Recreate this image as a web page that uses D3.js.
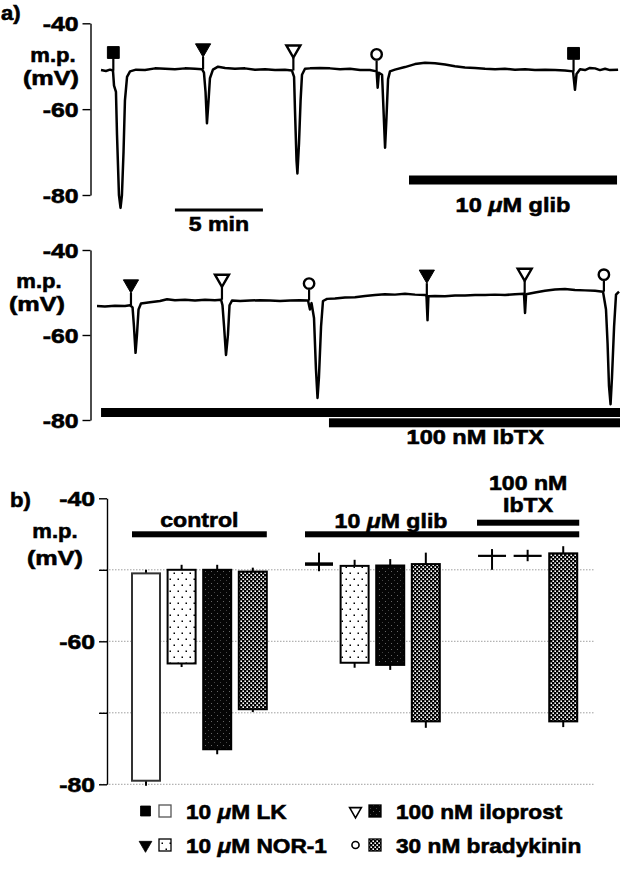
<!DOCTYPE html>
<html>
<head>
<meta charset="utf-8">
<script src="https://cdn.jsdelivr.net/npm/d3@7"></script>
<style>
  body { margin: 0; background: #fff; }
</style>
</head>
<body>
<script>
// ---------- data ----------
// panel a, upper trace: [time (min), membrane potential (mV)]
var traceA = [
  [0.00, -50.9], [0.28, -51.1], [0.51, -50.8], [0.68, -51.0], [0.74, -54.5], [0.85, -56.0],
  [0.91, -66.0], [1.02, -80.0], [1.11, -83.0], [1.19, -80.0], [1.28, -70.0], [1.36, -58.0],
  [1.48, -52.5], [1.65, -51.2], [1.99, -50.8], [2.50, -50.9], [3.07, -50.5], [3.64, -50.6],
  [4.20, -50.7], [4.77, -50.5], [5.34, -50.6], [5.74, -50.7], [5.85, -51.5], [5.94, -56.0],
  [6.02, -63.3], [6.11, -58.0], [6.19, -52.8], [6.36, -50.8], [6.65, -50.1], [7.05, -50.4],
  [7.61, -50.6], [8.18, -50.5], [8.75, -50.8], [9.32, -50.7], [9.89, -50.9], [10.45, -50.8],
  [10.85, -51.0], [10.97, -52.5], [11.02, -60.0], [11.11, -72.0], [11.16, -75.0], [11.25, -68.0],
  [11.34, -58.0], [11.42, -52.0], [11.59, -50.6], [11.88, -50.5], [12.44, -50.4], [13.01, -50.5],
  [13.58, -50.7], [14.15, -50.6], [14.72, -50.9], [15.28, -50.9], [15.66, -51.2], [15.72, -55.0],
  [15.79, -51.5], [15.97, -52.0], [16.05, -60.0], [16.14, -69.0], [16.22, -62.0], [16.31, -53.0],
  [16.42, -51.2], [16.70, -50.8], [17.27, -50.2], [17.84, -49.5], [18.41, -49.2], [18.98, -49.3],
  [19.55, -49.6], [20.11, -50.0], [20.68, -50.3], [21.25, -50.4], [21.82, -50.6], [22.39, -50.7],
  [22.95, -50.6], [23.52, -50.8], [24.09, -50.7], [24.66, -50.9], [25.23, -50.8], [25.80, -50.9],
  [26.36, -51.0], [26.82, -51.2], [26.93, -55.5], [27.02, -51.8], [27.22, -50.7], [27.50, -50.9],
  [27.78, -50.4], [28.07, -50.5], [28.35, -50.9], [28.64, -50.6], [28.92, -50.9], [29.38, -50.8]
];
var markersA = [
  { t: 0.70, agent: "LK" }, { t: 5.80, agent: "NOR-1" }, { t: 10.93, agent: "iloprost" },
  { t: 15.66, agent: "bradykinin" }, { t: 26.85, agent: "LK" }
];
var drugBarsA = [{ label: "10 μM glib", from: 17.5, to: 29.32 }];
var timeBarA = { label: "5 min", from: 4.2, to: 9.2 };

// panel a, lower trace
var traceB = [
  [0.00, -53.2], [0.45, -53.3], [1.02, -53.1], [1.59, -53.2], [1.88, -53.0], [2.02, -53.5],
  [2.10, -58.0], [2.19, -64.2], [2.27, -60.0], [2.36, -54.0], [2.50, -52.6], [3.01, -52.3],
  [3.58, -52.0], [3.98, -51.6], [4.43, -51.8], [5.00, -51.7], [5.57, -51.9], [6.14, -51.7],
  [6.70, -51.8], [7.05, -51.7], [7.13, -53.0], [7.22, -58.0], [7.33, -64.7], [7.44, -60.0],
  [7.53, -53.0], [7.67, -51.9], [8.13, -52.0], [8.69, -51.9], [9.26, -51.8], [9.83, -51.9],
  [10.40, -52.0], [10.97, -51.9], [11.53, -51.8], [11.99, -51.9], [12.10, -54.0], [12.19, -52.5],
  [12.33, -56.0], [12.44, -68.0], [12.53, -74.8], [12.61, -70.0], [12.73, -58.0], [12.84, -52.0],
  [13.07, -51.5], [13.52, -51.4], [14.09, -51.2], [14.66, -51.1], [15.23, -50.8], [15.80, -50.6],
  [16.36, -50.4], [16.93, -50.5], [17.50, -50.3], [18.07, -50.5], [18.64, -50.6], [18.72, -50.7],
  [18.78, -56.5], [18.83, -50.9], [19.20, -50.8], [19.77, -50.9], [20.34, -50.7], [20.91, -50.7],
  [21.48, -50.6], [22.05, -50.6], [22.61, -50.5], [23.18, -50.6], [23.75, -50.4], [24.26, -50.3],
  [24.32, -54.8], [24.38, -50.4], [24.89, -50.0], [25.45, -49.6], [26.02, -49.3], [26.59, -49.2],
  [27.16, -49.4], [27.73, -49.5], [28.30, -49.6], [28.75, -49.8], [28.84, -52.0], [28.92, -54.0],
  [29.01, -62.0], [29.09, -72.0], [29.18, -76.3], [29.26, -70.0], [29.38, -58.0], [29.49, -50.5],
  [29.66, -49.8]
];
var markersB = [
  { t: 1.93, agent: "NOR-1" }, { t: 7.10, agent: "iloprost" }, { t: 12.05, agent: "bradykinin" },
  { t: 18.74, agent: "NOR-1" }, { t: 24.30, agent: "iloprost" }, { t: 28.80, agent: "bradykinin" }
];
var drugBarsB = [
  { label: "", from: 0.23, to: 29.8 },
  { label: "100 nM IbTX", from: 13.18, to: 29.8 }
];

// panel b: resting and peak potentials (mV) with s.e.m.
var groups = ["control", "10 μM glib", "100 nM IbTX"];
var agents = ["LK", "NOR-1", "iloprost", "bradykinin"];
var restMean = [[-50.5, -50.0, -50.0, -50.25], [-49.2, -49.45, -49.4, -49.2], [-48.0, -48.0, null, -47.7]];
var restSem  = [[0.5, 0.7, 0.7, 0.55], [1.6, 0.85, 0.9, 1.6], [0.9, 0.8, null, 1.0]];
var peakMean = [[-79.5, -63.1, -75.1, -69.5], [-49.2, -63.0, -63.3, -71.2], [-48.1, -48.1, null, -71.2]];
var peakSem  = [[0.7, 0.5, 0.7, 0.4], [1.0, 0.7, 0.7, 0.9], [1.9, 0.7, null, 0.8]];

var legendLabels = ["10 μM LK", "10 μM NOR-1", "100 nM iloprost", "30 nM bradykinin"];
var yTicks = [-40, -60, -80];
var gridValues = [-50, -60, -70, -80];

// ---------- drawing ----------
var W = 620, H = 880;
var FONT = '"Liberation Sans", Arial, Helvetica, sans-serif';
var FS = 21;
var PX_PER_MIN = 17.6;

var svg = d3.select("body").append("svg")
  .attr("width", W).attr("height", H)
  .style("font-family", FONT).style("font-weight", "bold");
svg.append("rect").attr("width", W).attr("height", H).attr("fill", "#fff");

// fills for the four agents
var defs = svg.append("defs");
var p1 = defs.append("pattern").attr("id", "dots").attr("patternUnits", "userSpaceOnUse")
  .attr("width", 8).attr("height", 12);
p1.append("rect").attr("width", 8).attr("height", 12).attr("fill", "#fff");
p1.append("rect").attr("x", 1.5).attr("y", 2.5).attr("width", 1.5).attr("height", 1.5).attr("fill", "#000");
p1.append("rect").attr("x", 5.5).attr("y", 8.5).attr("width", 1.5).attr("height", 1.5).attr("fill", "#000");

var p2 = defs.append("pattern").attr("id", "dark").attr("patternUnits", "userSpaceOnUse")
  .attr("width", 6).attr("height", 6);
p2.append("rect").attr("width", 6).attr("height", 6).attr("fill", "#050505");
p2.append("rect").attr("x", 1).attr("y", 1).attr("width", 1).attr("height", 1).attr("fill", "#666");
p2.append("rect").attr("x", 4).attr("y", 4).attr("width", 1).attr("height", 1).attr("fill", "#444");

var p3 = defs.append("pattern").attr("id", "checker").attr("patternUnits", "userSpaceOnUse")
  .attr("width", 4).attr("height", 4);
p3.append("rect").attr("width", 4).attr("height", 4).attr("fill", "#000");
p3.append("rect").attr("x", 0.4).attr("y", 0.4).attr("width", 1.6).attr("height", 1.6).attr("fill", "#fff");
p3.append("rect").attr("x", 2.4).attr("y", 2.4).attr("width", 1.6).attr("height", 1.6).attr("fill", "#fff");

var agentFill = { "LK": "#fff", "NOR-1": "url(#dots)", "iloprost": "url(#dark)", "bradykinin": "url(#checker)" };

// text helper: μ set in italic like the Symbol glyph, text widened like the original lettering
function addText(parent, x, y, str, anchor, size, widen) {
  var t = parent.append("text").attr("x", x).attr("y", y)
    .attr("text-anchor", anchor || "start")
    .attr("font-size", size || FS).attr("font-weight", "bold").attr("fill", "#000")
    .attr("stroke", "#000").attr("stroke-width", 0.6);
  str.split(/(μ)/).forEach(function (part) {
    if (!part) return;
    var s = t.append("tspan").text(part);
    if (part === "μ") s.attr("font-style", "italic");
  });
  stretch(t, widen || 1.1);
  return t;
}
function stretch(sel, k) {
  sel.each(function () {
    var len = this.getComputedTextLength();
    this.setAttribute("textLength", len * k);
    this.setAttribute("lengthAdjust", "spacingAndGlyphs");
  });
}

function yAxis(g, y, x0, values, labelled) {
  var ax = d3.axisLeft(y).tickValues(values).tickSize(8).tickSizeOuter(0).tickPadding(4)
    .tickFormat(function (d) { return labelled.indexOf(d) >= 0 ? String(d) : ""; });
  g.attr("transform", "translate(" + x0 + ",0)").call(ax);
  g.select(".domain").attr("stroke", "#000").attr("stroke-width", 1.4);
  g.selectAll(".tick line").attr("stroke", "#000").attr("stroke-width", 1.4);
  g.selectAll(".tick text").attr("font-size", FS).attr("font-weight", "bold")
    .attr("font-family", FONT).attr("fill", "#000").attr("stroke", "#000").attr("stroke-width", 0.6)
    .attr("dy", "0.36em");
  stretch(g.selectAll(".tick text").filter(function (d) { return labelled.indexOf(d) >= 0; }), 1.18);
}

function drawMarker(g, agent, x, yTrace) {
  var kind = {
    "LK": { type: d3.symbolSquare, size: 140, fill: "#000", off: 18, half: 5.9, rot: 0 },
    "NOR-1": { type: d3.symbolTriangle, size: 100, fill: "#000", off: 21, half: 8.7, rot: 180 },
    "iloprost": { type: d3.symbolTriangle, size: 85, fill: "#fff", off: 21, half: 8.2, rot: 180 },
    "bradykinin": { type: d3.symbolCircle, size: 85, fill: "#fff", off: 17, half: 6.2, rot: 0 }
  }[agent];
  var cy = yTrace - kind.off;
  g.append("line").attr("x1", x).attr("x2", x).attr("y1", cy + kind.half).attr("y2", yTrace)
    .attr("stroke", "#000").attr("stroke-width", 2.2);
  g.append("path").attr("d", d3.symbol().type(kind.type).size(kind.size)())
    .attr("transform", "translate(" + x + "," + cy + ") rotate(" + kind.rot + ")")
    .attr("fill", kind.fill).attr("stroke", "#000")
    .attr("stroke-width", kind.fill === "#fff" ? 2.4 : 1);
}

function tracePanel(opt) {
  var g = svg.append("g");
  var x = d3.scaleLinear().domain([0, 1]).range([opt.x0, opt.x0 + PX_PER_MIN]);
  var y = d3.scaleLinear().domain([-40, -80]).range(opt.yRange);

  yAxis(g.append("g"), y, opt.axisX, yTicks, yTicks);

  var line = d3.line().x(function (d) { return x(d[0]); }).y(function (d) { return y(d[1]); });
  g.append("path").datum(opt.trace).attr("d", line)
    .attr("fill", "none").attr("stroke", "#000").attr("stroke-width", 2.5)
    .attr("stroke-linejoin", "round");

  var bis = d3.bisector(function (d) { return d[0]; }).right;
  opt.markers.forEach(function (m) {
    var i = Math.max(0, bis(opt.trace, m.t) - 1);
    drawMarker(g, m.agent, x(m.t), y(opt.trace[i][1]));
  });

  opt.drugBars.forEach(function (b, i) {
    var yc = opt.barY[i];
    g.append("rect").attr("x", x(b.from)).attr("width", x(b.to) - x(b.from))
      .attr("y", yc - 4.5).attr("height", 9).attr("fill", "#000");
    if (b.label) addText(g, (x(b.from) + x(b.to)) / 2, opt.barLabelY, b.label, "middle", FS, 1.12);
  });
  return { g: g, x: x, y: y };
}

// ---- panel a, upper ----
addText(svg, 1, 20, "a)", "start", FS, 1.05);
addText(svg, 53, 62, "m.p.", "middle", FS, 1.05);
addText(svg, 51, 85, "(mV)", "middle", FS, 1.2);
var pa = tracePanel({
  x0: 101, yRange: [23.3, 195], axisX: 90.5,
  trace: traceA, markers: markersA, drugBars: drugBarsA, barY: [180], barLabelY: 212
});
pa.g.append("rect").attr("x", pa.x(timeBarA.from)).attr("width", pa.x(timeBarA.to) - pa.x(timeBarA.from))
  .attr("y", 208.5).attr("height", 3).attr("fill", "#000");
addText(pa.g, (pa.x(timeBarA.from) + pa.x(timeBarA.to)) / 2, 231, timeBarA.label, "middle", FS, 1.1);

// ---- panel a, lower ----
addText(svg, 39, 288, "m.p.", "middle", FS, 1.05);
addText(svg, 37, 311, "(mV)", "middle", FS, 1.2);
tracePanel({
  x0: 97, yRange: [250, 420], axisX: 90.5,
  trace: traceB, markers: markersB, drugBars: drugBarsB, barY: [412.5, 422.8], barLabelY: 444
});

// ---- panel b ----
var gb = svg.append("g");
var yb = d3.scaleLinear().domain([-40, -80]).range([498.3, 784.3]);
var xb = d3.scaleLinear().domain([0, 1]).range([146, 181.6]);
var GROUP_STEP = 4.86, BAR_W = 28;

addText(svg, 10, 507, "b)", "start", FS, 1.05);
addText(svg, 55, 538, "m.p.", "middle", FS, 1.05);
addText(svg, 55, 565, "(mV)", "middle", FS, 1.2);

gb.append("g").selectAll("line").data(gridValues).enter().append("line")
  .attr("x1", 100).attr("x2", 594).attr("y1", yb).attr("y2", yb)
  .attr("stroke", "#888").attr("stroke-width", 0.8).attr("stroke-dasharray", "1.5,1.5");
yAxis(gb.append("g"), yb, 107, [-40, -50, -60, -70, -80], yTicks);

// flatten groups x agents into bar records
var bars = [];
groups.forEach(function (grp, gi) {
  var slot = 0;
  agents.forEach(function (ag, ai) {
    if (restMean[gi][ai] === null) return;
    bars.push({
      group: gi, agent: ag, pos: gi * GROUP_STEP + slot,
      rest: restMean[gi][ai], restSem: restSem[gi][ai],
      peak: peakMean[gi][ai], peakSem: peakSem[gi][ai]
    });
    slot++;
  });
});

bars.forEach(function (d) {
  var cx = xb(d.pos);
  var cross = Math.abs(d.rest - d.peak) < 1;
  gb.append("line").attr("x1", cx).attr("x2", cx)
    .attr("y1", yb(d.rest + d.restSem)).attr("y2", yb(d.peak - d.peakSem))
    .attr("stroke", "#000").attr("stroke-width", 2);
  if (cross) {
    gb.append("line").attr("x1", cx - BAR_W / 2).attr("x2", cx + BAR_W / 2)
      .attr("y1", yb((d.rest + d.peak) / 2)).attr("y2", yb((d.rest + d.peak) / 2))
      .attr("stroke", "#000").attr("stroke-width", d.group === 1 ? 3.5 : 2.2);
  } else {
    gb.append("rect").attr("x", cx - BAR_W / 2).attr("width", BAR_W)
      .attr("y", yb(d.rest)).attr("height", yb(d.peak) - yb(d.rest))
      .attr("fill", agentFill[d.agent])
      .attr("stroke", d.agent === "LK" ? "#333" : "#000").attr("stroke-width", 2);
  }
});

// treatment bars over the groups
function slotX(gi, slot) { return xb(gi * GROUP_STEP + slot); }
var spans = [
  { x1: slotX(0, 0) - 14, x2: slotX(0, 3) + 14, y: 534.3 },
  { x1: slotX(1, 0) - 14, x2: slotX(2, 2) + 16, y: 534.3 },
  { x1: slotX(2, 0) - 15, x2: slotX(2, 2) + 16, y: 522.7 }
];
spans.forEach(function (s) {
  gb.append("rect").attr("x", s.x1).attr("width", s.x2 - s.x1).attr("y", s.y - 3).attr("height", 6).attr("fill", "#000");
});
addText(gb, (spans[0].x1 + spans[0].x2) / 2, 527, groups[0], "middle", FS, 1.1);
addText(gb, (spans[1].x1 + spans[2].x1) / 2, 528, groups[1], "middle", FS, 1.1);
var ib = groups[2].split(" ");
addText(gb, (spans[2].x1 + spans[2].x2) / 2, 490, ib[0] + " " + ib[1], "middle", FS, 1.1);
addText(gb, (spans[2].x1 + spans[2].x2) / 2, 512, ib[2], "middle", FS, 1.1);

// ---- legend ----
var lg = svg.append("g");
var legendCols = [140, 350], legendRows = [812, 846];
var legendOrder = [[0, 0, 0], [1, 0, 1], [2, 1, 0], [3, 1, 1]]; // agent index, col, row
legendOrder.forEach(function (o) {
  var ag = agents[o[0]], lx = legendCols[o[1]], ly = legendRows[o[2]];
  var sym = {
    "LK": [d3.symbolSquare, 100, "#000", 0],
    "NOR-1": [d3.symbolTriangle, 70, "#000", 180],
    "iloprost": [d3.symbolTriangle, 60, "#fff", 180],
    "bradykinin": [d3.symbolCircle, 40, "#fff", 0]
  }[ag];
  lg.append("path").attr("d", d3.symbol().type(sym[0]).size(sym[1])())
    .attr("transform", "translate(" + (lx + 5.5) + "," + (ly - 1) + ") rotate(" + sym[3] + ")")
    .attr("fill", sym[2]).attr("stroke", "#000").attr("stroke-width", sym[2] === "#fff" ? 1.6 : 0.8);
  lg.append("rect").attr("x", lx + 19).attr("y", ly - 7).attr("width", 12).attr("height", 12)
    .attr("fill", agentFill[ag]).attr("stroke", ag === "LK" ? "#555" : "#000").attr("stroke-width", 1.3);
  addText(lg, lx + 46, ly + 7, legendLabels[o[0]], "start", FS, 1.08);
});
</script>
</body>
</html>
